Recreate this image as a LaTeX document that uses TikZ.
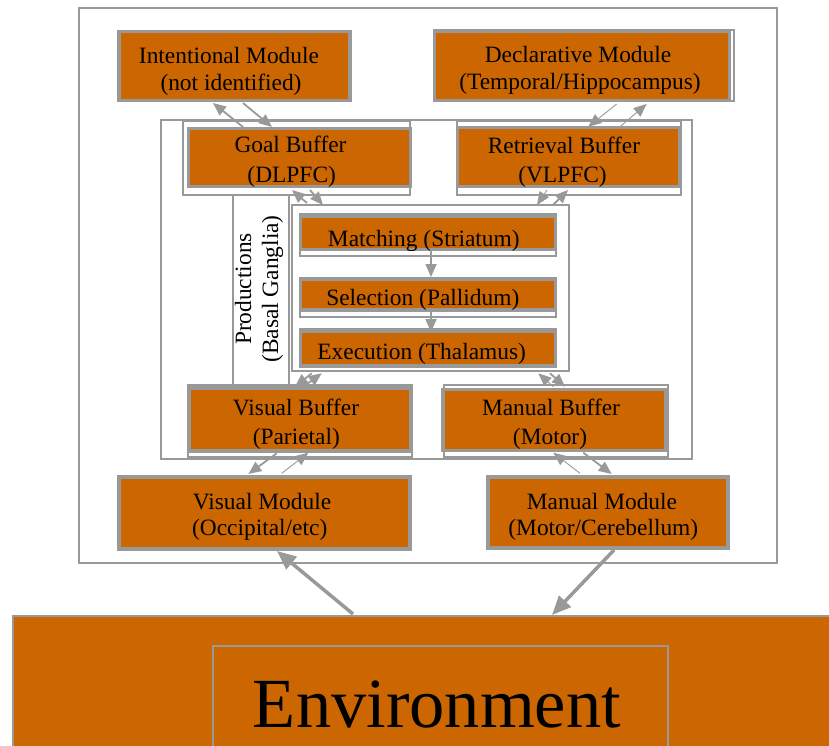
\documentclass[tikz,border=0pt]{standalone}
\usepackage{fontspec}
\setmainfont{Liberation Serif}
\usetikzlibrary{arrows.meta}
\definecolor{orng}{RGB}{204,102,0}
\definecolor{gry}{RGB}{153,153,153}
\begin{document}
\begin{tikzpicture}[x=1pt,y=-1pt,
  frame/.style={draw=gry, line width=2pt},
  obox/.style={draw=gry, fill=orng, line width=3.5pt},
  mbox/.style={draw=gry, fill=orng, line width=4pt},
  lbl/.style={font=\fontsize{23.4}{27}\selectfont, anchor=base, inner sep=0pt},
  arr/.style={draw=gry, line width=1.8pt, -{Triangle[length=13pt,width=11pt]}},
  thinarr/.style={draw=gry, line width=0.9pt, -{Triangle[length=13pt,width=11pt]}},
  bigarr/.style={draw=gry, line width=3.5pt, -{Triangle[length=19pt,width=16pt]}}]
\useasboundingbox (0,0) rectangle (829,746);
\fill[white] (0,0) rectangle (829,746);

% Environment
\draw[frame, fill=orng] (13.3,616) rectangle (850,770);
\draw[frame] (213.3,646) rectangle (668,770);
\node[font=\fontsize{70.5}{80}\selectfont, anchor=base, inner sep=0pt] (envtext) at (437,727) {Environment};

% outer frame
\draw[frame] (78.5,8.5) rectangle (777,563);

% modules
\draw[obox] (119,31.5) rectangle (350,100.5);
\node[lbl] (intent1) at (229,63.3) {Intentional Module};
\node[lbl] (intent2) at (231,90.3) {(not identified)};

\draw[frame] (433.5,30) rectangle (734,101.5);
\draw[obox] (434.5,31.5) rectangle (729.5,100.5);
\node[lbl] (decl1) at (578,62.7) {Declarative Module};
\node[lbl] (decl2) at (580,90) {(Temporal/Hippocampus)};

% inner region
\draw[frame] (160.5,120.5) rectangle (691.7,459);

% productions strip and box
\draw[frame] (232.7,188) rectangle (288.5,385);
\node[lbl, rotate=90, anchor=center, align=center, font=\fontsize{23.4}{27}\selectfont] (prodlabel) at (259,289) {Productions\\(Basal Ganglia)};
\draw[frame] (291.7,205) rectangle (569.3,371);

% goal buffer
\draw[frame, fill=white] (182.5,121) rectangle (409.5,195);
\draw[obox] (188.4,128.7) rectangle (410.5,186.6);
\node[lbl] (goal1) at (290.5,153) {Goal Buffer};
\node[lbl] (goal2) at (291.7,182.7) {(DLPFC)};

% retrieval buffer
\draw[frame, fill=white] (456.5,121) rectangle (681.2,195);
\draw[obox] (457.7,127.5) rectangle (680,186.5);
\node[lbl] (retr1) at (564,153.3) {Retrieval Buffer};
\node[lbl] (retr2) at (562.5,182.7) {(VLPFC)};

% production stages
\draw[frame, fill=white] (299.5,214) rectangle (556,256);
\draw[obox] (300.5,216) rectangle (555.3,249.5);
\node[lbl] (match) at (423.8,246) {Matching (Striatum)};

\draw[frame, fill=white] (299.5,278) rectangle (556,317);
\draw[obox] (300.5,279.5) rectangle (555.3,310);
\node[lbl] (sel) at (422.8,305) {Selection (Pallidum)};

\draw[frame, fill=white] (299.5,329) rectangle (556,367);
\draw[obox] (300.5,331.5) rectangle (555.3,365.3);
\node[lbl] (exec) at (421.7,359.3) {Execution (Thalamus)};

% visual buffer
\draw[frame, fill=white] (187.5,385) rectangle (411.5,456.5);
\draw[obox] (189,388) rectangle (410.5,451);
\node[lbl] (vbuf1) at (296,415.7) {Visual Buffer};
\node[lbl] (vbuf2) at (296.3,444) {(Parietal)};

% manual buffer
\draw[frame, fill=white] (443.5,385) rectangle (668,456.5);
\draw[obox] (442.8,389.5) rectangle (666,450.5);
\node[lbl] (mbuf1) at (551,415.7) {Manual Buffer};
\node[lbl] (mbuf2) at (550,444) {(Motor)};

% visual module
\draw[mbox] (119.3,476.5) rectangle (410.3,548.5);
\node[lbl] (vmod1) at (262,509) {Visual Module};
\node[lbl] (vmod2) at (259.7,535) {(Occipital/etc)};

% manual module
\draw[mbox] (487.5,477) rectangle (728.3,548);
\node[lbl] (mmod1) at (602,509) {Manual Module};
\node[lbl] (mmod2) at (603.3,535) {(Motor/Cerebellum)};

% connector end points
\coordinate (igA) at (243,127); \coordinate (igB) at (213,103);
\coordinate (igC) at (243,103); \coordinate (igD) at (272,127);
\coordinate (drA) at (616.7,104); \coordinate (drB) at (588.3,126.7);
\coordinate (drC) at (620,126.7); \coordinate (drD) at (646.7,104);
\coordinate (gpA) at (310,190); \coordinate (gpB) at (323,205);
\coordinate (gpC) at (307,203); \coordinate (gpD) at (292,190);
\coordinate (rpA) at (547,190); \coordinate (rpB) at (537,205);
\coordinate (rpC) at (553,205); \coordinate (rpD) at (568,190);
\coordinate (pvA) at (311.7,373.3); \coordinate (pvB) at (295,386.7);
\coordinate (pvC) at (303.3,386.7); \coordinate (pvD) at (321.7,373.3);
\coordinate (pmA) at (553.3,386.7); \coordinate (pmB) at (538.3,373.3);
\coordinate (pmC) at (550,373.3); \coordinate (pmD) at (565,386.7);
\coordinate (msA) at (431,249.5); \coordinate (msB) at (431,277);
\coordinate (seA) at (431,310); \coordinate (seB) at (431,332);
\coordinate (vvA) at (276.7,453.3); \coordinate (vvB) at (248.3,474);
\coordinate (vvC) at (281.7,473.3); \coordinate (vvD) at (308.3,452.7);
\coordinate (mmA) at (580,473.3); \coordinate (mmB) at (553.3,452.7);
\coordinate (mmC) at (583.3,452.7); \coordinate (mmD) at (611.7,474);
\coordinate (evA) at (353,614); \coordinate (evB) at (277,551);
\coordinate (meA) at (614,550); \coordinate (meB) at (552,615);

% connectors
\draw[arr] (igA) -- (igB);
\draw[arr] (igC) -- (igD);
\draw[thinarr] (drA) -- (drB);
\draw[thinarr] (drC) -- (drD);
\draw[arr] (gpA) -- (gpB);
\draw[arr] (gpC) -- (gpD);
\draw[thinarr] (rpA) -- (rpB);
\draw[arr] (rpC) -- (rpD);
\draw[arr] (pvA) -- (pvB);
\draw[arr] (pvC) -- (pvD);
\draw[thinarr] (pmA) -- (pmB);
\draw[arr] (pmC) -- (pmD);
\draw[arr] (msA) -- (msB);
\draw[arr] (seA) -- (seB);
\draw[arr] (vvA) -- (vvB);
\draw[thinarr] (vvC) -- (vvD);
\draw[thinarr] (mmA) -- (mmB);
\draw[arr] (mmC) -- (mmD);
\draw[bigarr] (evA) -- (evB);
\draw[bigarr] (meA) -- (meB);
\end{tikzpicture}
\end{document}
